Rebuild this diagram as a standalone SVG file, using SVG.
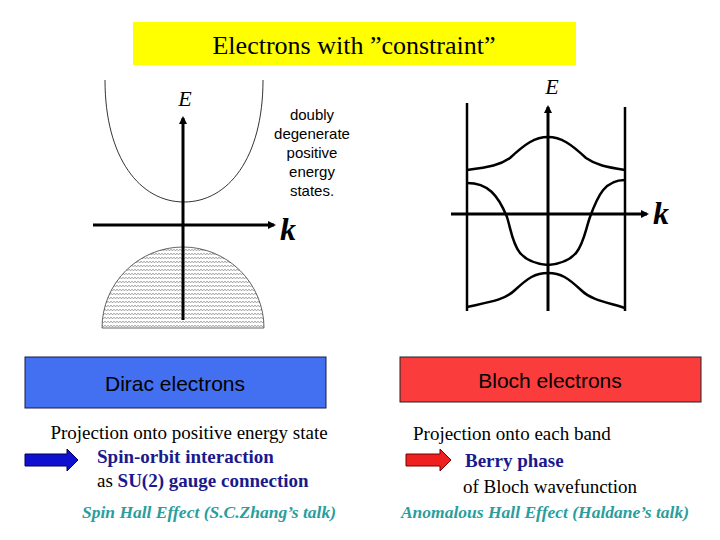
<svg xmlns="http://www.w3.org/2000/svg" width="720" height="540" viewBox="0 0 720 540">
<style>
.ax{stroke:#000;stroke-width:3;fill:none}
.b{stroke:#000;stroke-width:2.5;fill:none}
.t{font-family:"Liberation Serif",serif;font-size:19px;fill:#000}
.bl{font-family:"Liberation Serif",serif;font-size:19px;font-weight:bold;fill:#1a1a8c}
.tl{font-family:"Liberation Serif",serif;font-size:17.5px;font-weight:bold;font-style:italic;fill:#2a9d9d}
.s{font-family:"Liberation Sans",sans-serif;fill:#000}
.m{font-family:"Liberation Serif",serif;font-style:italic;fill:#000}
</style>
<defs>
<marker id="ar" markerWidth="8" markerHeight="8" refX="6" refY="4" orient="auto" markerUnits="userSpaceOnUse"><path d="M0,0 L8,4 L0,8 Z" fill="#000"/></marker>
<pattern id="zz" width="6" height="4" patternUnits="userSpaceOnUse"><path d="M0,1 L1.5,3 L3,1 L4.5,3 L6,1" stroke="#777" stroke-width="0.6" fill="none"/></pattern>
</defs>
<rect width="720" height="540" fill="#fff"/>
<g id="title"><rect x="133" y="22" width="443" height="43" fill="#ffff00"/><text x="354" y="54" text-anchor="middle" font-family="Liberation Serif,serif" font-size="26">Electrons with ”constraint”</text></g>
<g id="dirac-plot">
<path d="M105,80 C105,158 140,202 184,202 C228,202 263,158 263,80" fill="none" stroke="#000" stroke-width="0.8"/>
<path d="M102,328 A81,81 0 0 1 264,328 Z" fill="url(#zz)" stroke="#000" stroke-width="0.6"/>
<text x="185" y="106" class="m" font-size="22" text-anchor="middle">E</text>
<text x="288" y="240" class="m" font-size="32" font-weight="bold" text-anchor="middle">k</text>
<text class="s" font-size="15" text-anchor="middle"><tspan x="312" y="120">doubly</tspan><tspan x="312" y="139">degenerate</tspan><tspan x="312" y="158">positive</tspan><tspan x="312" y="177">energy</tspan><tspan x="312" y="196">states.</tspan></text>
</g>
<g id="bloch-plot">
<line x1="467" y1="103" x2="467" y2="311" class="b"/>
<line x1="625" y1="107" x2="625" y2="311" class="b"/>
<path class="b" d="M467,170 C490,167 500,165 510,158 C525,144 535,137 548,137 C561,137 571,144 586,158 C596,165 606,167 625,170"/>
<path class="b" d="M467,183 C488,183 498,195 507,217 C514,240 513,262 548,265 C583,262 582,240 590,217 C598,195 605,180 625,180"/>
<path class="b" d="M467,307 C490,302 505,300 515,290 C528,278 535,273 548,273 C561,273 568,278 581,290 C591,300 606,302 625,308"/>
<text x="552" y="94" class="m" font-size="22" text-anchor="middle">E</text>
<text x="661" y="224" class="m" font-size="32" font-weight="bold" text-anchor="middle">k</text>
</g>
<g id="connectors">
<line x1="183" y1="320" x2="183" y2="118" class="ax" marker-end="url(#ar)"/>
<line x1="93" y1="225" x2="274" y2="225" class="ax" marker-end="url(#ar)"/>
<line x1="548" y1="311" x2="548" y2="107" class="ax" marker-end="url(#ar)"/>
<line x1="451" y1="214" x2="647" y2="214" class="ax" marker-end="url(#ar)"/>
</g>
<g id="dirac-box"><rect x="25" y="357" width="301" height="51" fill="#4270f0" stroke="#1a1a4a" stroke-width="1"/><text x="175" y="391" text-anchor="middle" class="s" font-size="21">Dirac electrons</text></g>
<g id="bloch-box"><rect x="400" y="357" width="301" height="45" fill="#fa3c3c" stroke="#222" stroke-width="1"/><text x="550" y="388" text-anchor="middle" class="s" font-size="21">Bloch electrons</text></g>
<g id="dirac-text">
<path d="M25,454 H67 V449 L78,460 L67,471 V466 H25 Z" fill="#1010d0" stroke="#000050" stroke-width="1"/>
<text x="189" y="439" class="t" text-anchor="middle">Projection onto positive energy state</text>
<text x="97" y="463" class="bl">Spin-orbit interaction</text>
<text x="97" y="487" class="t">as <tspan class="bl">SU(2) gauge connection</tspan></text>
<text x="209" y="518" class="tl" text-anchor="middle">Spin Hall Effect (S.C.Zhang’s talk)</text>
</g>
<g id="bloch-text">
<path d="M406,454 H440 V449 L451,460 L440,471 V466 H406 Z" fill="#ee2020" stroke="#700" stroke-width="1"/>
<text x="413" y="440" class="t">Projection onto each band</text>
<text x="465" y="467" class="bl">Berry phase</text>
<text x="463" y="493" class="t">of Bloch wavefunction</text>
<text x="545" y="518" class="tl" text-anchor="middle">Anomalous Hall Effect (Haldane’s talk)</text>
</g>
</svg>
